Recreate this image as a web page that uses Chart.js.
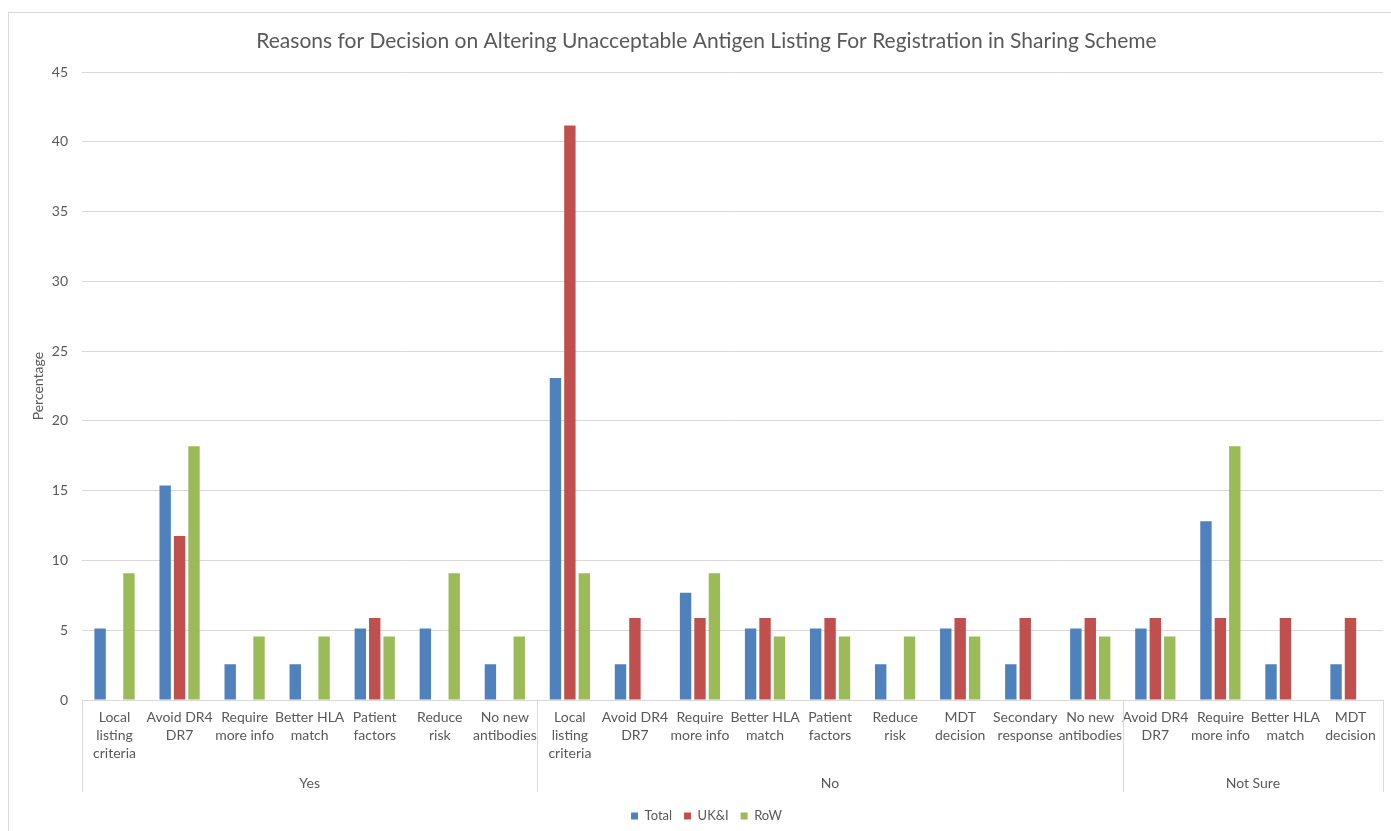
<!DOCTYPE html>
<html>
<head>
<meta charset="utf-8">
<script src="https://cdn.jsdelivr.net/npm/chart.js@4.4.1/dist/chart.umd.min.js"></script>
<style>
  html, body { margin: 0; padding: 0; background: #ffffff; overflow: hidden; }
  #frame { position: absolute; left: 8px; top: 12px; width: 1395px; height: 830px; border: 1px solid #d9d9d9; }
  #chart { display: block; }
</style>
</head>
<body>
<div id="frame"><canvas id="chart" width="1395" height="830"></canvas></div>
<script>
// Reason categories, grouped under each answer
const groupNames = ['Yes', 'No', 'Not Sure'];
const groupSizes = [7, 9, 4];
const categories = [
  ['Local', 'listing', 'criteria'], ['Avoid DR4', 'DR7'], ['Require', 'more info'], ['Better HLA', 'match'],
  ['Patient', 'factors'], ['Reduce', 'risk'], ['No new', 'antibodies'],
  ['Local', 'listing', 'criteria'], ['Avoid DR4', 'DR7'], ['Require', 'more info'], ['Better HLA', 'match'],
  ['Patient', 'factors'], ['Reduce', 'risk'], ['MDT', 'decision'], ['Secondary', 'response'], ['No new', 'antibodies'],
  ['Avoid DR4', 'DR7'], ['Require', 'more info'], ['Better HLA', 'match'], ['MDT', 'decision']
];

// Percentages per respondent group
const totalValues = [5.13, 15.38, 2.56, 2.56, 5.13, 5.13, 2.56,
                     23.08, 2.56, 7.69, 5.13, 5.13, 2.56, 5.13, 2.56, 5.13,
                     5.13, 12.82, 2.56, 2.56];
const ukiValues   = [0, 11.76, 0, 0, 5.88, 0, 0,
                     41.18, 5.88, 5.88, 5.88, 5.88, 0, 5.88, 5.88, 5.88,
                     5.88, 5.88, 5.88, 5.88];
const rowValues   = [9.09, 18.18, 4.55, 4.55, 4.55, 9.09, 4.55,
                     9.09, 0, 9.09, 4.55, 4.55, 4.55, 4.55, 0, 4.55,
                     4.55, 18.18, 0, 0];

const yTicks = { min: 0, max: 45, step: 5 };

const TEXT = '#595959';
const GRID = '#d9d9d9';
const FONT = 'Lato, "Open Sans", sans-serif';
const AXIS_DEPTH = 92;   // height of the two-level category band under the plot

// Draws the outer category level: group separators and group names
const groupAxis = {
  id: 'groupAxis',
  afterDraw(chart) {
    const x = chart.scales.x;
    const ctx = chart.ctx;
    const top = chart.chartArea.bottom;
    const bottom = top + AXIS_DEPTH;
    const n = categories.length;
    const edge = (i) => {
      if (i <= 0) return x.left;
      if (i >= n) return x.right;
      return (x.getPixelForValue(i - 1) + x.getPixelForValue(i)) / 2;
    };
    ctx.save();
    ctx.strokeStyle = GRID;
    ctx.lineWidth = 1;
    ctx.fillStyle = TEXT;
    ctx.font = '14px ' + FONT;
    ctx.textAlign = 'center';
    ctx.textBaseline = 'middle';
    let start = 0;
    const bounds = [0];
    groupSizes.forEach((size, g) => {
      const end = start + size;
      bounds.push(end);
      const l = edge(start), r = edge(end);
      ctx.fillText(groupNames[g], (l + r) / 2, top + 83);
      start = end;
    });
    bounds.forEach((b) => {
      const px = Math.round(edge(b)) + 0.5;
      ctx.beginPath();
      ctx.moveTo(px, top);
      ctx.lineTo(px, bottom);
      ctx.stroke();
    });
    ctx.restore();
  }
};

new Chart(document.getElementById('chart'), {
  type: 'bar',
  data: {
    labels: categories,
    datasets: [
      { label: 'Total', data: totalValues, backgroundColor: '#4f81bd' },
      { label: 'UK&I', data: ukiValues, backgroundColor: '#c0504d' },
      { label: 'RoW', data: rowValues, backgroundColor: '#9bbb59' }
    ]
  },
  options: {
    responsive: false,
    animation: false,
    layout: { padding: { left: 0, right: 0, top: 0, bottom: 10.5 } },
    datasets: { bar: { categoryPercentage: 0.665, barPercentage: 0.79 } },
    plugins: {
      title: {
        display: true,
        text: 'Reasons for Decision on Altering Unacceptable Antigen Listing For Registration in Sharing Scheme',
        color: TEXT,
        font: { family: FONT, size: 21, weight: 'normal', lineHeight: 1.2 },
        padding: { top: 16, bottom: 18 }
      },
      legend: {
        position: 'bottom',
        labels: {
          color: TEXT,
          font: { family: FONT, size: 13 },
          boxWidth: 7,
          boxHeight: 7,
          padding: 12
        }
      },
      tooltip: { enabled: false }
    },
    scales: {
      x: {
        grid: { display: false, drawTicks: false },
        border: { display: false },
        ticks: {
          color: TEXT,
          font: { family: FONT, size: 14, lineHeight: 1.3 },
          padding: 8,
          autoSkip: false,
          maxRotation: 0,
          minRotation: 0
        },
        afterFit(scale) { scale.height = 97.5; }
      },
      y: {
        min: yTicks.min,
        max: yTicks.max,
        grid: { color: GRID, drawTicks: false },
        border: { display: false },
        ticks: {
          stepSize: yTicks.step,
          color: TEXT,
          font: { family: FONT, size: 14 },
          padding: 14
        },
        title: {
          display: true,
          text: 'Percentage',
          color: TEXT,
          font: { family: FONT, size: 14 },
          padding: { top: 21, bottom: 0 }
        },
        afterFit(scale) { scale.width = 73; }
      },
      // empty right-hand margin axis keeping the plot clear of the frame
      margin: {
        type: 'linear',
        position: 'right',
        display: true,
        grid: { display: false, drawTicks: false },
        border: { display: false },
        ticks: { display: false },
        afterFit(scale) { scale.width = 21; }
      }
    }
  },
  plugins: [groupAxis]
});
</script>
</body>
</html>
